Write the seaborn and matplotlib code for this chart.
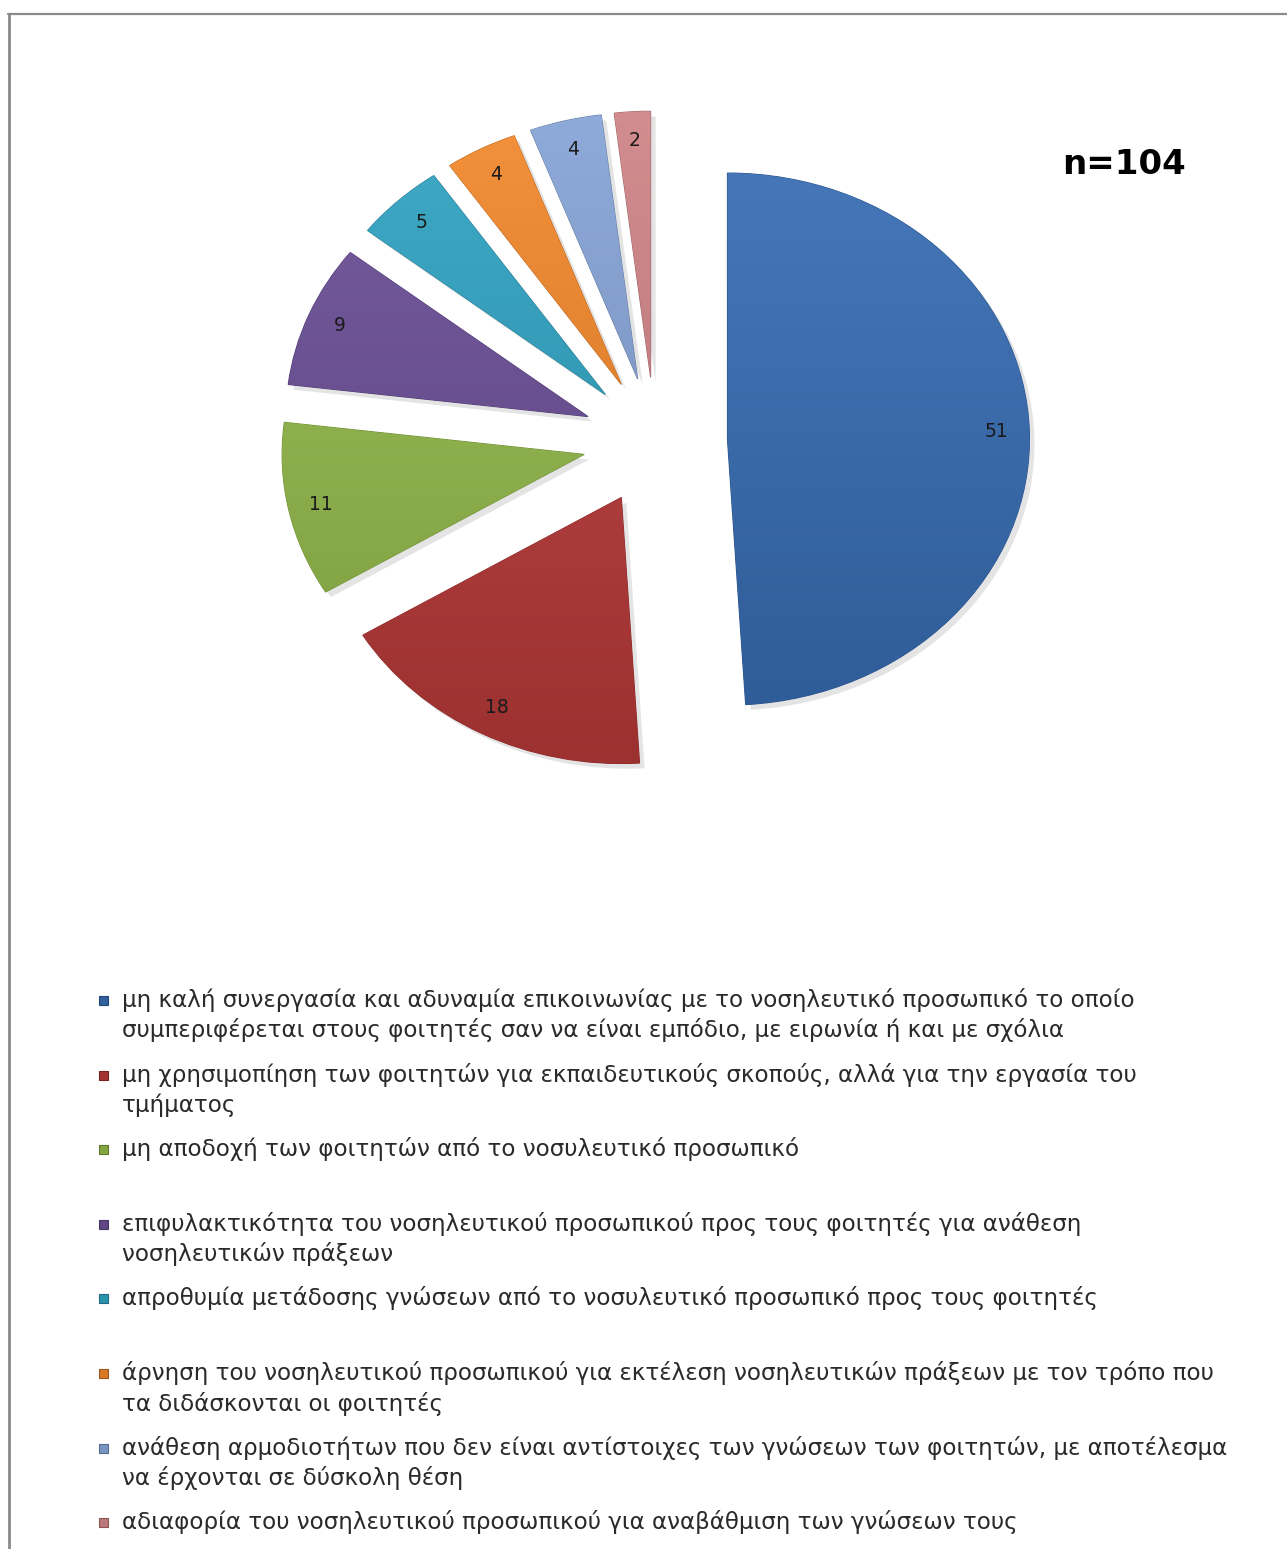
import numpy as np
import matplotlib
matplotlib.use("Agg")
import matplotlib.pyplot as plt
import matplotlib.colors as mcolors
from matplotlib.patches import Rectangle
from matplotlib.lines import Line2D
import seaborn as sns

# ---- data -------------------------------------------------------------
values = [51, 18, 11, 9, 5, 4, 4, 2]
legend_lines = [
    ["μη καλή συνεργασία και αδυναμία επικοινωνίας με το νοσηλευτικό προσωπικό το οποίο",
     "συμπεριφέρεται στους φοιτητές σαν να είναι εμπόδιο, με ειρωνία ή και με σχόλια"],
    ["μη χρησιμοπίηση των φοιτητών για εκπαιδευτικούς σκοπούς, αλλά για την εργασία του",
     "τμήματος"],
    ["μη αποδοχή των φοιτητών από το νοσυλευτικό προσωπικό"],
    ["επιφυλακτικότητα του νοσηλευτικού προσωπικού προς τους φοιτητές για ανάθεση",
     "νοσηλευτικών πράξεων"],
    ["απροθυμία μετάδοσης γνώσεων από το νοσυλευτικό προσωπικό προς τους φοιτητές"],
    ["άρνηση του νοσηλευτικού προσωπικού για εκτέλεση νοσηλευτικών πράξεων με τον τρόπο που",
     "τα διδάσκονται οι φοιτητές"],
    ["ανάθεση αρμοδιοτήτων που δεν είναι αντίστοιχες των γνώσεων των φοιτητών, με αποτέλεσμα",
     "να έρχονται σε δύσκολη θέση"],
    ["αδιαφορία του νοσηλευτικού προσωπικού για αναβάθμιση των γνώσεων τους"],
]
sample_label = "n=104"
slice_colors = ["#376cb2", "#b53938", "#92b84a", "#6b4f96",
                "#30a3c2", "#f2882c", "#86a4d6", "#cf8487"]

# ---- theme ------------------------------------------------------------
sns.set_theme(style="white")
plt.rcParams["font.family"] = ["DejaVu Sans"]
palette = sns.color_palette(slice_colors)

W, H, DPI = 1287, 1549, 100
fig = plt.figure(figsize=(W / DPI, H / DPI), dpi=DPI)
fig.patch.set_facecolor("white")


def px(x, y):
    """pixel position (from top-left) -> figure fraction"""
    return x / W, 1 - y / H


# pie axes covering the whole figure; one unit of radius = rx px wide, ry px tall
cx, cy = 655, 441
rx, ry = 302, 266
ax = fig.add_axes([0, 0, 1, 1])
total = sum(values)

wedges, texts, autotexts = ax.pie(
    values,
    colors=palette,
    startangle=90,
    counterclock=False,
    explode=[0.24] * len(values),
    autopct=lambda p: f"{int(round(p * total / 100))}",
    pctdistance=0.89,
    wedgeprops=dict(linewidth=0.8),
    shadow=dict(ox=0.012, oy=-0.014, facecolor="#c4c4c4", edgecolor="none", alpha=0.45),
    textprops=dict(fontsize=13.5, color="#1a1a1a"),
)

ax.set_aspect("auto")
xlim = (-cx / rx, (W - cx) / rx)
ylim = (-(H - cy) / ry, cy / ry)

# gentle vertical shading inside each slice (lighter top, darker bottom)
for w, c in zip(wedges, palette):
    base = np.array(mcolors.to_rgb(c))
    w.set_edgecolor(tuple(base * 0.78))
    top = base + (1 - base) * 0.07
    bot = base * 0.86
    t = np.linspace(0, 1, 256)[:, None]
    grad = top[None, :] * (1 - t) + bot[None, :] * t
    img = np.repeat(grad[:, None, :], 2, axis=1)
    xc, yc = w.center
    r = w.r
    im = ax.imshow(img, extent=(xc - r, xc + r, yc - r, yc + r), origin="upper",
                   aspect="auto", zorder=w.get_zorder() + 0.1, interpolation="bilinear")
    im.set_clip_path(w)

ax.set_xlim(*xlim)
ax.set_ylim(*ylim)
ax.axis("off")
for t in autotexts:
    t.set_zorder(5)

# sample size
fig.text(*px(1124, 165), sample_label, fontsize=24.5, fontweight="bold",
         ha="center", va="center", color="black")

# legend (manual, one marker per category, wrapped text)
for i, (lines, c) in enumerate(zip(legend_lines, palette)):
    y0 = 1000 + 74.6 * i
    base = np.array(mcolors.to_rgb(c))
    fig.patches.append(Rectangle(px(99, y0 + 5), 9 / W, 9 / H, transform=fig.transFigure,
                                 facecolor=base * 0.9, edgecolor=base * 0.65, linewidth=0.8))
    for j, line in enumerate(lines):
        fig.text(*px(122, y0 + 30.5 * j), line, fontsize=16.6, color="#2a2a2a",
                 ha="left", va="center")

# outer frame (top and left edges)
fig.lines.append(Line2D([9 / W, 9 / W], [0, 1 - 14 / H], transform=fig.transFigure,
                        color="#8a8a8a", linewidth=2))
fig.lines.append(Line2D([8 / W, 1], [1 - 14 / H, 1 - 14 / H], transform=fig.transFigure,
                        color="#8a8a8a", linewidth=1.6))

fig.savefig("out.png", dpi=DPI, facecolor="white")
